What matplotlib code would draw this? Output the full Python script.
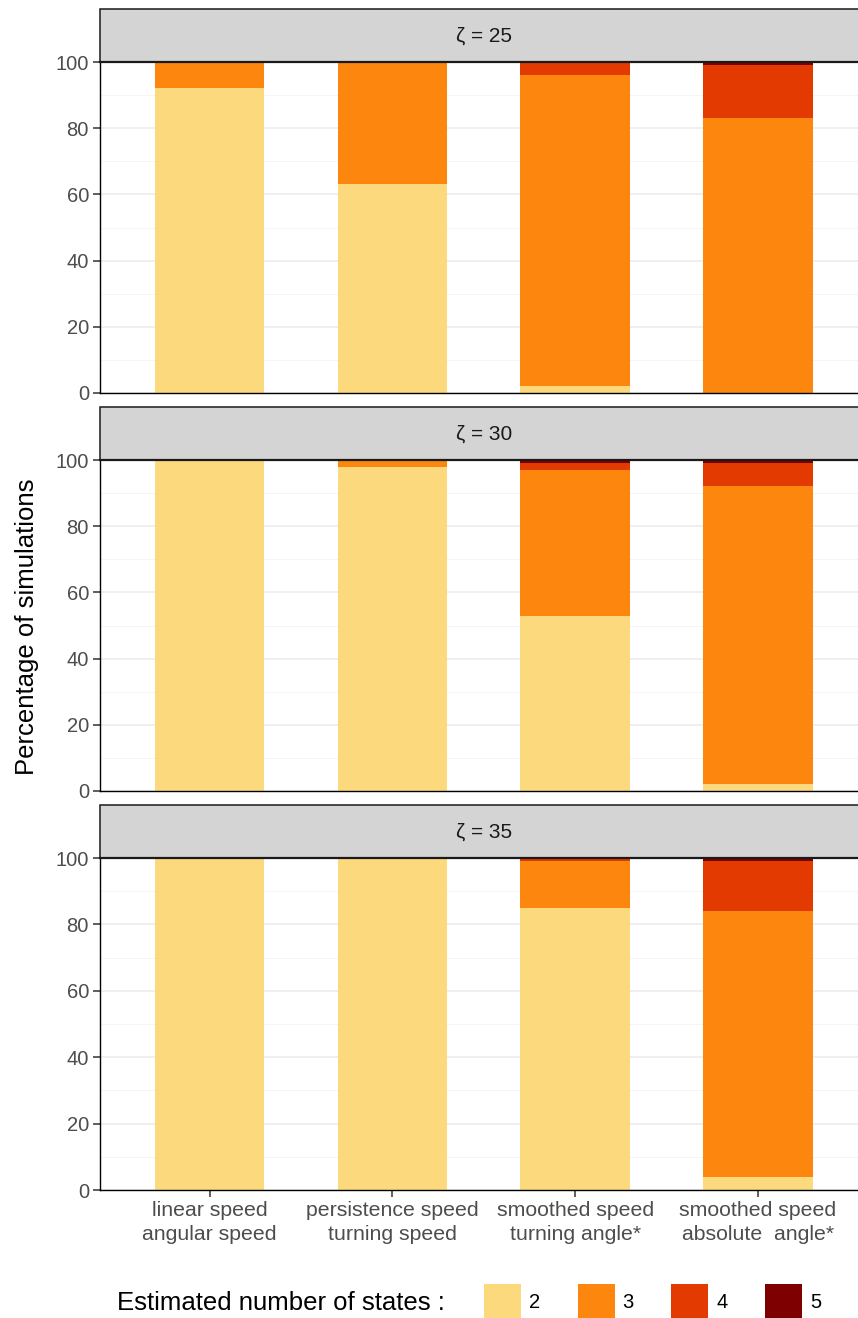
import numpy as np
import matplotlib
matplotlib.use('Agg')
import matplotlib.pyplot as plt
from matplotlib.patches import Rectangle

plt.rcParams['font.family'] = ['Liberation Sans', 'DejaVu Sans']

zeta = [25, 30, 35]
methods = ['linear speed\nangular speed', 'persistence speed\nturning speed',
           'smoothed speed\nturning angle*', 'smoothed speed\nabsolute  angle*']
states = ['2', '3', '4', '5']
colors = ['#fdd97e', '#fd870e', '#e23a00', '#7f0000']

# percentage of simulations per panel (rows = zeta), per method
pct_2 = [[92, 63, 2, 0], [100, 98, 53, 2], [100, 100, 85, 4]]
pct_3 = [[8, 37, 94, 83], [0, 2, 44, 90], [0, 0, 14, 80]]
pct_4 = [[0, 0, 4, 16], [0, 0, 2, 7], [0, 0, 1, 15]]
pct_5 = [[0, 0, 0, 1], [0, 0, 1, 1], [0, 0, 0, 1]]

W, H = 858, 1318
fig = plt.figure(figsize=(W / 100, H / 100), dpi=100)

def fx(px):
    return px / W

def fy(py):
    return 1 - py / H

# pixel layout: (strip top, panel top, panel bottom)
panels = [(9, 62, 393), (407, 460, 791), (805, 858, 1190)]
left, right = 100, 858

x = np.arange(1, 5)
for k, (st, pt, pb) in enumerate(panels):
    ax = fig.add_axes([fx(left), fy(pb), fx(right - left), (pb - pt) / H])
    bottom = np.zeros(4)
    for vals, c in zip([pct_2, pct_3, pct_4, pct_5], colors):
        v = np.array(vals[k], dtype=float)
        ax.bar(x, v, 0.6, bottom=bottom, color=c, linewidth=0, zorder=2)
        bottom += v
    ax.set_xlim(0.4, 4 + (right - 758) / 182.5)
    ax.set_ylim(0, 100)
    ax.set_yticks([0, 20, 40, 60, 80, 100])
    ax.set_yticks([10, 30, 50, 70, 90], minor=True)
    ax.grid(axis='y', which='major', color='#ebebeb', linewidth=1.1, zorder=0)
    ax.grid(axis='y', which='minor', color='#f2f2f2', linewidth=0.6, zorder=0)
    ax.set_axisbelow(True)
    for s in ['top', 'right']:
        ax.spines[s].set_visible(False)
    for s in ['left', 'bottom']:
        ax.spines[s].set_color('black')
        ax.spines[s].set_linewidth(1.0)
    ax.tick_params(axis='y', which='major', length=5, width=1.1, color='#333333',
                   labelsize=14.5, labelcolor='#4d4d4d', pad=3)
    ax.tick_params(axis='y', which='minor', length=0)
    ax.set_xticks(x)
    if k == 2:
        ax.set_xticklabels(methods, fontsize=15.3, color='#4d4d4d', linespacing=1.3)
        ax.tick_params(axis='x', length=5, width=1.1, color='#333333', pad=3)
    else:
        ax.set_xticklabels([])
        ax.tick_params(axis='x', length=0)

    # facet strip
    fig.patches.append(Rectangle((fx(left), fy(pt)), fx(right + 5 - left), (pt - st) / H,
                                 transform=fig.transFigure, facecolor='#d4d4d4',
                                 edgecolor='#1a1a1a', linewidth=1.1, zorder=1))
    fig.add_artist(plt.Line2D([fx(left), fx(right)], [fy(pt), fy(pt)],
                              color='#1a1a1a', linewidth=1.6, transform=fig.transFigure))
    fig.text(fx(484), fy((st + pt) / 2 + 1), '\u03b6 = %d' % zeta[k], ha='center', va='center',
             fontsize=15, color='#1a1a1a')

fig.text(fx(27), fy(627), 'Percentage of simulations', rotation=90, ha='center',
         va='center', fontsize=18.5)

# legend
fig.text(fx(117), fy(1303), 'Estimated number of states :', ha='left', va='center',
         fontsize=18.5)
for i, (lab, c) in enumerate(zip(states, colors)):
    x0 = 484 + i * 93.7
    fig.patches.append(Rectangle((fx(x0), fy(1320)), fx(37), 36 / H,
                                 transform=fig.transFigure, facecolor=c, edgecolor='none'))
    fig.text(fx(x0 + 45), fy(1303), lab, ha='left', va='center', fontsize=14.5)

fig.savefig('out.png', dpi=100)
